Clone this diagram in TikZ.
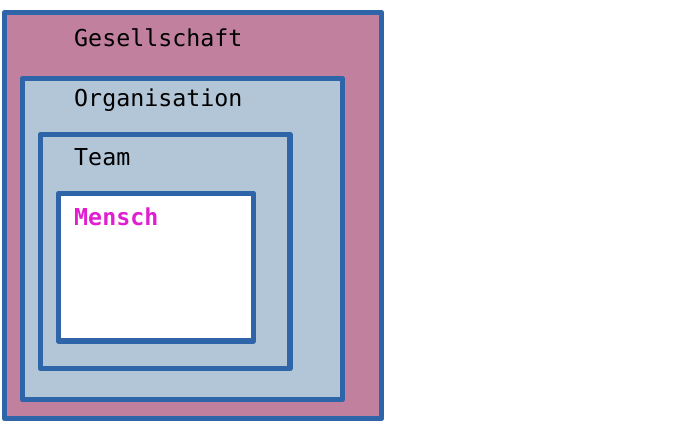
\documentclass[tikz,border=0pt]{standalone}
\usepackage{fontspec}
\setmonofont{DejaVu Sans Mono}
\definecolor{rahmen}{RGB}{46,100,168}
\definecolor{mauve}{RGB}{192,128,158}
\definecolor{hellblau}{RGB}{178,198,216}
\definecolor{magenta2}{RGB}{224,32,208}
\tikzset{
	ebene/.style={draw=rahmen, line width=5.5pt, line join=round},
	titel/.style={anchor=base west, inner sep=0pt, font=\ttfamily\fontsize{23.3}{28}\selectfont}
}

\begin{document}
\begin{tikzpicture}[x=1pt,y=-1pt]
	\useasboundingbox (0,0) rectangle (700,428);
	% Nested levels
	\draw[ebene, fill=mauve] (4.5,12.5) rectangle (381.5,418.5);
	\draw[ebene, fill=hellblau] (22.5,78.5) rectangle (342.5,399.5);
	\draw[ebene, fill=hellblau] (40.5,134.5) rectangle (290,368.5);
	\draw[ebene, fill=white] (58.5,193.5) rectangle (253.5,341);
	% Labels
	\node[titel] (gesellschaft) at (74,46) {Gesellschaft};
	\node[titel] (organisation) at (74,106) {Organisation};
	\node[titel] (team) at (74,165) {Team};
	\node[titel, text=magenta2, font=\ttfamily\bfseries\fontsize{23.3}{28}\selectfont] (mensch) at (74,225) {Mensch};
\end{tikzpicture}
\end{document}
